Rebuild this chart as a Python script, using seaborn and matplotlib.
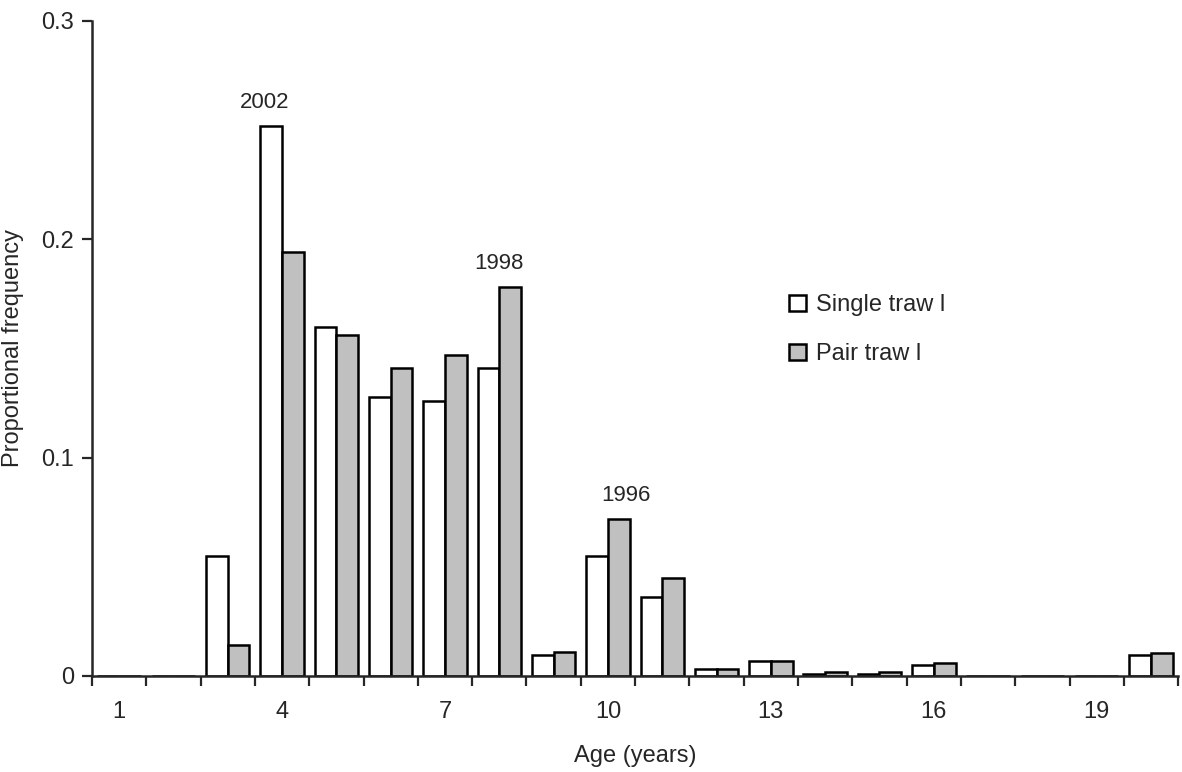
import pandas as pd
import seaborn as sns
import matplotlib.pyplot as plt
from matplotlib.ticker import FixedLocator
from matplotlib.patches import Patch

ages = list(range(1, 21))
single_trawl = [0, 0, 0.055, 0.252, 0.160, 0.128, 0.126, 0.141, 0.0095, 0.055,
                0.036, 0.003, 0.007, 0.001, 0.001, 0.005, 0, 0, 0, 0.0095]
pair_trawl = [0, 0, 0.014, 0.194, 0.156, 0.141, 0.147, 0.178, 0.011, 0.072,
              0.045, 0.003, 0.007, 0.002, 0.002, 0.006, 0, 0, 0, 0.0105]
cohort_labels = {4: '2002', 8: '1998', 10: '1996'}
# horizontal nudge of each year label, in category units
label_shift = {4: -0.33, 8: 0.0, 10: 0.33}

df = pd.DataFrame({
    'Age': [str(a) for a in ages] * 2,
    'Frequency': single_trawl + pair_trawl,
    'Gear': ['Single traw l'] * len(ages) + ['Pair traw l'] * len(ages),
})

sns.set_style('ticks')
plt.rcParams['font.family'] = ['Liberation Sans', 'DejaVu Sans']

fig = plt.figure(figsize=(11.82, 7.72), dpi=100)
ax = fig.add_axes([0.0778, 0.1244, 0.919, 0.8484])

palette = {'Single traw l': 'white', 'Pair traw l': '#c0c0c0'}
sns.barplot(data=df, x='Age', y='Frequency', hue='Gear', palette=palette,
            edgecolor='black', linewidth=1.8, saturation=1, ax=ax, legend=False)

for age, lab in cohort_labels.items():
    i = age - 1
    top = max(single_trawl[i], pair_trawl[i])
    ax.text(i + label_shift[age], top + 0.006, lab, ha='center', va='bottom', fontsize=16)

ax.set_xlim(-0.5, 19.5)
ax.set_ylim(0, 0.3)
ax.set_yticks([0, 0.1, 0.2, 0.3])
ax.set_yticklabels(['0', '0.1', '0.2', '0.3'])
ax.set_xticks([0, 3, 6, 9, 12, 15, 18])
ax.set_xticklabels(['1', '4', '7', '10', '13', '16', '19'])
ax.xaxis.set_minor_locator(FixedLocator([i - 0.5 for i in range(21)]))
ax.tick_params(axis='x', which='major', length=0, pad=18, labelsize=17)
ax.tick_params(axis='x', which='minor', length=7, width=1.6, direction='out')
ax.tick_params(axis='y', length=7, width=1.6, direction='out', pad=6, labelsize=17)

sns.despine(ax=ax)
for s in ['left', 'bottom']:
    ax.spines[s].set_linewidth(1.8)

ax.set_xlabel('Age (years)', fontsize=17, labelpad=16)
ax.set_ylabel('Proportional frequency', fontsize=17, labelpad=12)

handles = [Patch(facecolor=palette[g], edgecolor='black', linewidth=1.8, label=g)
           for g in ['Single traw l', 'Pair traw l']]
ax.legend(handles=handles, frameon=False, loc='upper left',
          bbox_to_anchor=(0.642, 0.583), borderaxespad=0, borderpad=0,
          fontsize=17, handlelength=0.7, handleheight=0.7,
          handletextpad=0.45, labelspacing=1.15)

fig.savefig('out.png', dpi=100)
